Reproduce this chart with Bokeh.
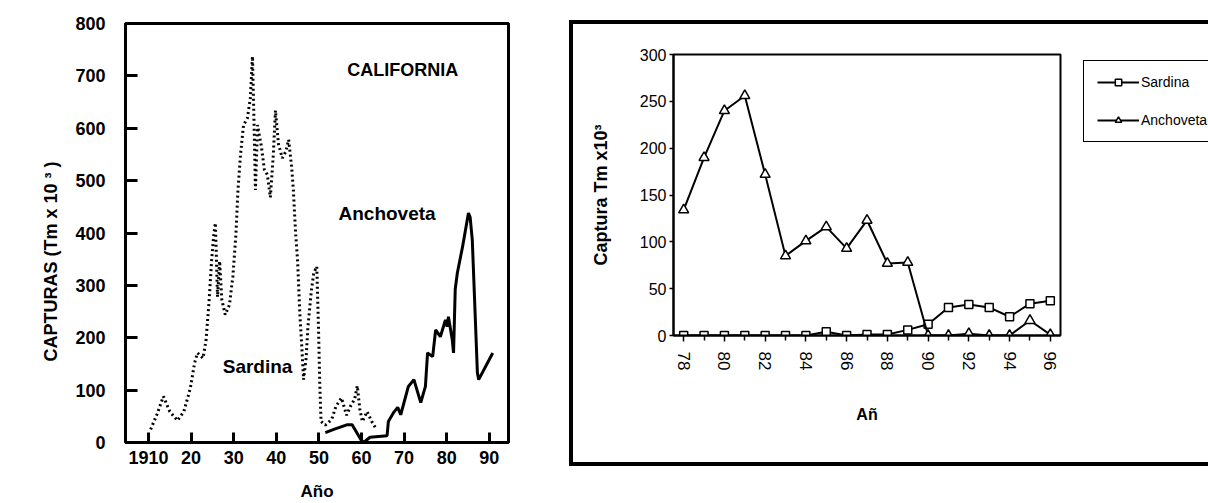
from bokeh.embed import file_html
from bokeh.layouts import column, row
from bokeh.models import FixedTicker, Label, Legend, LegendItem, Range1d, Title
from bokeh.plotting import figure
from bokeh.resources import INLINE

# --- California catches (thousand t) -------------------------------------
sardina_year = [1910.5, 1912, 1913.5, 1915, 1916.8, 1918.3, 1919.8, 1920.8, 1921.5, 1922.8,
                1923.5, 1924.2, 1924.8, 1925.3, 1925.7, 1926.2, 1926.7, 1927.2, 1928, 1929,
                1929.8, 1930.5, 1931, 1931.6, 1932.3, 1933.2, 1933.9, 1934.4, 1934.8, 1935.1,
                1935.6, 1936.5, 1937.2, 1937.9, 1938.6, 1939.3, 1939.8, 1940.5, 1941.4, 1942.2,
                1942.9, 1943.6, 1944, 1944.5, 1945, 1945.5, 1946, 1946.4, 1947, 1947.4,
                1948.2, 1948.8, 1949.5, 1949.9, 1950.2, 1950.5, 1951.5, 1953, 1954, 1955.3,
                1956.5, 1957.4, 1958.4, 1959, 1959.6, 1960.2, 1961.3, 1962.4, 1963.5]
sardina_catch = [25, 54, 88, 59, 42, 59, 103, 151, 171, 161,
                 195, 268, 346, 395, 419, 278, 346, 273, 244, 263,
                 317, 395, 482, 550, 606, 619, 657, 737, 599, 482,
                 606, 565, 521, 511, 468, 550, 634, 570, 543, 555,
                 578, 526, 482, 404, 346, 249, 180, 120, 161, 219,
                 288, 324, 336, 219, 112, 40, 33, 44, 69, 85,
                 52, 69, 83, 108, 64, 40, 59, 40, 25]

anchoveta_year = [1951.5, 1953.5, 1956.7, 1957.8, 1959.8, 1960.5, 1962, 1966, 1966.3, 1967.5,
                  1968.5, 1969.2, 1971, 1972.3, 1973.9, 1975, 1975.5, 1976.7, 1977.4, 1978.5,
                  1979.7, 1980.1, 1980.4, 1981.3, 1981.6, 1982, 1982.5, 1983.7, 1985.1, 1985.5,
                  1986, 1987.2, 1987.5, 1990.8]
anchoveta_catch = [19, 25, 34, 34, 6, 0, 10, 13, 40, 57,
                   67, 53, 107, 120, 76, 107, 171, 164, 215, 202,
                   234, 221, 240, 196, 171, 293, 324, 373, 438, 430,
                   387, 133, 120, 171]

cal_ticks = [1910, 1920, 1930, 1940, 1950, 1960, 1970, 1980, 1990]
cal_tick_labels = ["1910", "20", "30", "40", "50", "60", "70", "80", "90"]
cal_y_ticks = [0, 100, 200, 300, 400, 500, 600, 700, 800]

# --- Recent catches 1978-1996 ---------------------------------------------
years_recent = [78, 79, 80, 81, 82, 83, 84, 85, 86, 87, 88, 89, 90, 91, 92, 93, 94, 95, 96]
sardina_recent = [0, 0, 0, 0, 0, 0, 0, 4, 0, 1, 1, 6, 12, 30, 33, 30, 20, 34, 37]
anchoveta_recent = [134, 190, 240, 256, 172, 85, 101, 116, 93, 123, 77, 78, 0, 0, 2, 0, 0, 16, 1]

recent_major = [78, 80, 82, 84, 86, 88, 90, 92, 94, 96]
recent_minor = [79, 81, 83, 85, 87, 89, 91, 93, 95]
recent_y_ticks = [0, 50, 100, 150, 200, 250, 300]

FONT = "Liberation Sans"

# ------------------------------------------------------------------ left
p1 = figure(width=565, height=503, x_range=Range1d(1904.6, 1994.5), y_range=Range1d(0, 800),
            output_backend="svg", toolbar_location=None,
            min_border_left=125, min_border_right=57, min_border_top=23, min_border_bottom=60)
p1.grid.visible = False
p1.outline_line_color = "black"
p1.outline_line_width = 3
p1.outline_line_alpha = 1.0

p1.line(sardina_year, sardina_catch, line_color="black", line_width=3, line_dash="2 3")
p1.line(anchoveta_year, anchoveta_catch, line_color="black", line_width=3)

for ax in (p1.xaxis[0], p1.yaxis[0]):
    ax.axis_line_width = 3
    ax.major_tick_line_width = 3
    ax.major_tick_out = 0
    ax.minor_tick_line_color = None
    ax.major_label_text_font = FONT
    ax.major_label_text_font_style = "bold"
    ax.major_label_text_font_size = "18px"
    ax.major_label_text_color = "black"
    ax.axis_label_text_color = "black"

p1.xaxis.ticker = FixedTicker(ticks=cal_ticks, minor_ticks=[])
p1.xaxis.major_label_overrides = dict(zip(cal_ticks, cal_tick_labels))
p1.xaxis.major_tick_in = 10
p1.xaxis.major_label_standoff = 8
p1.xaxis.axis_label = "Año"
p1.xaxis.axis_label_text_font = FONT
p1.xaxis.axis_label_text_font_style = "bold"
p1.xaxis.axis_label_text_font_size = "17px"
p1.xaxis.axis_label_standoff = 15

p1.yaxis.ticker = FixedTicker(ticks=cal_y_ticks, minor_ticks=[])
p1.yaxis.major_tick_in = 12
p1.yaxis.major_label_standoff = 20

p1.add_layout(Title(text="CAPTURAS  (Tm x 10 ³ )", align="left", offset=81, standoff=24,
                    text_font=FONT, text_font_style="bold", text_font_size="18px",
                    text_color="black"), "left")


def note(x, y, text, size):
    return Label(x=x, y=y, text=text, text_align="center", text_baseline="middle",
                 text_font=FONT, text_font_style="bold", text_font_size=size,
                 text_color="black")


p1.add_layout(note(1969.7, 712, "CALIFORNIA", "18px"))
p1.add_layout(note(1966.0, 438, "Anchoveta", "19px"))
p1.add_layout(note(1935.6, 145, "Sardina", "19px"))

# ----------------------------------------------------------------- right
p2 = figure(width=497, height=438, x_range=Range1d(77.5, 96.5), y_range=Range1d(0, 300),
            output_backend="svg", toolbar_location=None,
            min_border_left=100, min_border_right=10, min_border_top=30, min_border_bottom=127)
p2.grid.visible = False
p2.outline_line_color = "black"
p2.outline_line_width = 2
p2.outline_line_alpha = 1.0

p2.line(years_recent, sardina_recent, line_color="black", line_width=2)
p2.scatter(years_recent, sardina_recent, marker="square", size=8,
           fill_color="white", line_color="black", line_width=1.5)
p2.line(years_recent, anchoveta_recent, line_color="black", line_width=2)
p2.scatter(years_recent, anchoveta_recent, marker="triangle", size=10,
           fill_color="white", line_color="black", line_width=1.5)

for ax in (p2.xaxis[0], p2.yaxis[0]):
    ax.axis_line_width = 2
    ax.major_tick_line_width = 1.5
    ax.minor_tick_line_width = 1.5
    ax.major_tick_in = 0
    ax.minor_tick_in = 0
    ax.major_label_text_font = FONT
    ax.major_label_text_color = "black"
    ax.axis_label_text_color = "black"

p2.xaxis.ticker = FixedTicker(ticks=recent_major, minor_ticks=recent_minor)
p2.xaxis.major_tick_out = 6
p2.xaxis.minor_tick_out = 5
p2.xaxis.major_label_orientation = "vertical"
p2.xaxis.major_label_text_font_size = "17px"
p2.xaxis.major_label_standoff = 10
p2.xaxis.axis_label = "Añ"
p2.xaxis.axis_label_text_font = FONT
p2.xaxis.axis_label_text_font_style = "bold"
p2.xaxis.axis_label_text_font_size = "16px"
p2.xaxis.axis_label_standoff = 33

p2.yaxis.ticker = FixedTicker(ticks=recent_y_ticks, minor_ticks=[])
p2.yaxis.major_tick_out = 4
p2.yaxis.minor_tick_line_color = None
p2.yaxis.major_label_text_font_size = "16px"
p2.yaxis.major_label_standoff = 3
p2.yaxis.axis_label = "Captura Tm x10³"
p2.yaxis.axis_label_text_font = FONT
p2.yaxis.axis_label_text_font_style = "bold"
p2.yaxis.axis_label_text_font_size = "18px"
p2.yaxis.axis_label_standoff = 26

# legend panel beside the plot; its own renderers carry the same series styling
p3 = figure(width=138, height=438, x_range=Range1d(0, 1), y_range=Range1d(0, 1),
            output_backend="svg", toolbar_location=None,
            x_axis_location=None, y_axis_location=None,
            min_border_left=0, min_border_right=0, min_border_top=30, min_border_bottom=127)
p3.grid.visible = False
p3.outline_line_color = None
k_sar = [p3.line(years_recent, sardina_recent, line_color="black", line_width=2),
         p3.scatter(years_recent, sardina_recent, marker="square", size=8,
                    fill_color="white", line_color="black", line_width=1.5)]
k_anc = [p3.line(years_recent, anchoveta_recent, line_color="black", line_width=2),
         p3.scatter(years_recent, anchoveta_recent, marker="triangle", size=10,
                    fill_color="white", line_color="black", line_width=1.5)]

legend = Legend(items=[LegendItem(label="Sardina", renderers=k_sar),
                       LegendItem(label="Anchoveta", renderers=k_anc)],
                location=(13, 193), margin=0, padding=13, spacing=22,
                glyph_width=42, glyph_height=16, label_height=16, label_standoff=2,
                label_text_font=FONT, label_text_font_size="14px", label_text_color="black",
                border_line_color="black", border_line_width=1, border_line_alpha=1.0,
                background_fill_alpha=1.0)
p3.add_layout(legend)

right = row(p2, p3, styles={"margin-left": "4px", "margin-top": "20px",
                            "border-left": "4px solid black", "border-top": "4px solid black",
                            "border-bottom": "4px solid black"})

layout = row(column(p1), right)
open("out.html", "w").write(file_html(layout, INLINE))
